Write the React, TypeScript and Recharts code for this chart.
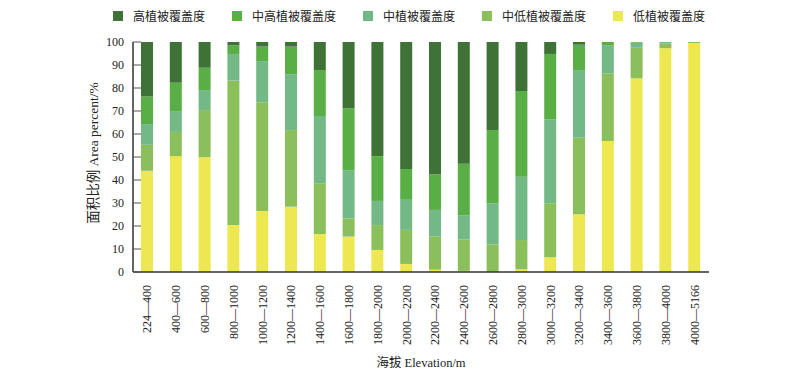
import React from 'react';
import { BarChart, Bar, XAxis, YAxis, Legend } from 'recharts';

const categories = ['224—400', '400—600', '600—800', '800—1000', '1000—1200', '1200—1400', '1400—1600', '1600—1800', '1800—2000', '2000—2200', '2200—2400', '2400—2600', '2600—2800', '2800—3000', '3000—3200', '3200—3400', '3400—3600', '3600—3800', '3800—4000', '4000—5166'];
const lowCover = [44, 50.4, 49.9, 20.4, 26.5, 28.4, 16.5, 15.4, 9.6, 3.5, 1, 0.5, 0, 1.2, 6.4, 25.1, 57, 84.2, 97.3, 99.5];
const midLowCover = [11.3, 10.5, 20.5, 62.8, 47.3, 33.3, 22.1, 7.9, 10.8, 14.8, 14.4, 13.6, 12, 12.7, 23.5, 33.3, 29.4, 13.3, 2.0, 0.5];
const midCover = [9, 8.8, 8.7, 11.6, 17.9, 24.3, 29.2, 21, 10.5, 13.1, 11.6, 10.6, 17.9, 27.5, 36.5, 29.4, 12, 2.2, 0.7, 0];
const midHighCover = [12, 12.6, 9.7, 3.7, 6.3, 12, 20, 26.9, 19.5, 13.4, 15.5, 22.4, 31.8, 37.3, 28.4, 11, 1.6, 0.3, 0, 0];
const highCover = [23.7, 17.7, 11.2, 1.5, 2, 2, 12.2, 28.8, 49.6, 55.2, 57.5, 52.9, 38.3, 21.3, 5.2, 1.2, 0, 0, 0, 0];
const yTicks = [0, 10, 20, 30, 40, 50, 60, 70, 80, 90, 100];

const seriesNames = {
  high: '高植被覆盖度',
  midHigh: '中高植被覆盖度',
  mid: '中植被覆盖度',
  midLow: '中低植被覆盖度',
  low: '低植被覆盖度',
};
const colors = {
  high: '#3f7236',
  midHigh: '#5aae46',
  mid: '#72b985',
  midLow: '#8bbf5b',
  low: '#ede84f',
};
const legendOrder = ['high', 'midHigh', 'mid', 'midLow', 'low'] as const;

const data = categories.map((c, i) => ({
  category: c,
  low: lowCover[i],
  midLow: midLowCover[i],
  mid: midCover[i],
  midHigh: midHighCover[i],
  high: highCover[i],
}));

const FONT = '"Liberation Serif", "Noto Sans CJK SC", serif';

const LegendContent = () => (
  <div style={{ display: 'flex', alignItems: 'center', height: 20, paddingLeft: 113, fontFamily: '"Noto Sans CJK SC", serif', fontSize: 12, color: '#222' }}>
    {legendOrder.map((k) => (
      <div key={k} style={{ display: 'flex', alignItems: 'center', marginRight: 27 }}>
        <div style={{ width: 10, height: 10, background: colors[k], marginRight: 10 }} />
        <span style={{ lineHeight: '12px' }}>{seriesNames[k]}</span>
      </div>
    ))}
  </div>
);

const YTick = (props: any) => {
  const { x, y, payload } = props;
  return (
    <g>
      <line x1={x + 9} x2={x + 17} y1={y} y2={y} stroke="#555" strokeWidth={1} />
      <text x={x} y={y} textAnchor="end" dominantBaseline="central" fontSize={12} fontFamily={FONT} fill="#222">
        {payload.value}
      </text>
    </g>
  );
};

const XTick = (props: any) => {
  const { x, y, payload } = props;
  return (
    <g transform={`translate(${x},${y})`}>
      <text transform="rotate(-90)" textAnchor="end" dominantBaseline="central" fontSize={12} fontFamily={FONT} fill="#222">
        {payload.value}
      </text>
    </g>
  );
};

export default function App() {
  return (
    <div style={{ position: 'absolute', left: 0, top: 0, background: '#fff' }}>
      <BarChart width={800} height={381} data={data} margin={{ top: 22, right: 91, bottom: 0, left: 0 }} barSize={12}>
        <Legend verticalAlign="top" content={<LegendContent />} wrapperStyle={{ top: 6, left: 0, width: 800 }} />
        <XAxis
          dataKey="category"
          interval={0}
          height={109}
          tickLine={false}
          tickSize={0}
          tickMargin={13}
          tick={<XTick />}
          axisLine={{ stroke: '#333', strokeWidth: 1.5 }}
          label={{
            content: (p: any) => {
              const vb = p.viewBox;
              return (
                <text x={vb.x + vb.width / 2} y={vb.y + 91} textAnchor="middle" dominantBaseline="central" fontSize={12.5} fontFamily={FONT} fill="#222">
                  海拔 Elevation/m
                </text>
              );
            },
          }}
        />
        <YAxis
          width={133}
          domain={[0, 100]}
          ticks={yTicks}
          interval={0}
          tickLine={false}
          tickSize={0}
          tickMargin={9}
          tick={<YTick />}
          axisLine={{ stroke: '#333', strokeWidth: 1.5 }}
          label={{
            content: (p: any) => {
              const vb = p.viewBox;
              const cx = vb.x + vb.width - 40;
              const cy = vb.y + vb.height / 2 - 4;
              return (
                <text x={cx} y={cy} transform={`rotate(-90, ${cx}, ${cy})`} textAnchor="middle" dominantBaseline="central" fontSize={13.5} fontFamily={FONT} fill="#222">
                  面积比例 Area percent/%
                </text>
              );
            },
          }}
        />
        <Bar dataKey="low" name={seriesNames.low} stackId="a" fill={colors.low} isAnimationActive={false} />
        <Bar dataKey="midLow" name={seriesNames.midLow} stackId="a" fill={colors.midLow} isAnimationActive={false} />
        <Bar dataKey="mid" name={seriesNames.mid} stackId="a" fill={colors.mid} isAnimationActive={false} />
        <Bar dataKey="midHigh" name={seriesNames.midHigh} stackId="a" fill={colors.midHigh} isAnimationActive={false} />
        <Bar dataKey="high" name={seriesNames.high} stackId="a" fill={colors.high} isAnimationActive={false} />
      </BarChart>
    </div>
  );
}
